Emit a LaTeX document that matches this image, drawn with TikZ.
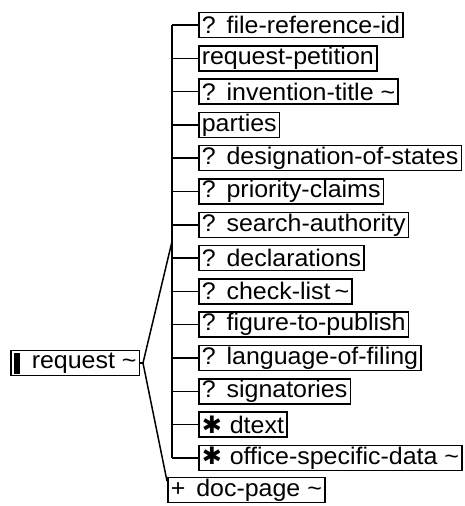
\documentclass[tikz,border=0pt]{standalone}
\usepackage{fontspec}
\setmainfont{Liberation Sans}[FakeStretch=1.04]
\newfontfamily\symfont{DejaVu Sans}
\usetikzlibrary{positioning}

\tikzset{
  elem/.style={draw, line width=1.5pt, anchor=west, inner xsep=3pt, inner ysep=0pt,
    minimum height=25pt, font=\fontsize{24}{25}\selectfont},
  link/.style={line width=1.5pt}
}
\newcommand{\optmark}{?\hspace{11pt}}
\newcommand{\manymark}{{\symfont ✱}\hspace{8pt}}
\newcommand{\plusmark}{+\hspace{11pt}}

\begin{document}
\begin{tikzpicture}[x=1pt,y=-1pt]
    \useasboundingbox (0,0) rectangle (464,506);
    % root element
    \node[elem] (request) at (10,363) {\rule[-5pt]{6pt}{21pt}\hspace{12pt}request \textasciitilde};

    % children of the sequence
    \node[elem] (fileref) at (198,25) {\optmark file-reference-id};
    \node[elem] (petition) at (198,58.3) {request-petition};
    \node[elem] (title) at (198,91.6) {\optmark invention-title \textasciitilde};
    \node[elem] (parties) at (198,125) {parties};
    \node[elem] (designation) at (198,158.2) {\optmark designation-of-states};
    \node[elem] (priority) at (198,191.5) {\optmark priority-claims};
    \node[elem] (search) at (198,224.8) {\optmark search-authority};
    \node[elem] (declarations) at (198,258.1) {\optmark declarations};
    \node[elem] (checklist) at (198,291.4) {\optmark check-list\,\textasciitilde};
    \node[elem] (figure) at (198,324.7) {\optmark figure-to-publish};
    \node[elem] (language) at (198,358) {\optmark language-of-filing};
    \node[elem] (signatories) at (198,391.3) {\optmark signatories};
    \node[elem] (dtext) at (198,424.6) {\manymark dtext};
    \node[elem] (office) at (198,458) {\manymark office-specific-data \textasciitilde};
    \node[elem] (docpage) at (167,490) {\plusmark doc-page \textasciitilde};

    % sequence bar and fork
    \coordinate (bar) at (172,0);
    \coordinate (barmid) at (172,241.5);
    \coordinate (fork) at (143,363);
    \coordinate (docin) at (167,481);
    \draw[link] (fileref.west -| bar) -- (office.west -| bar);
    \draw[link] (request.east) -- (fork);
    \draw[link] (fork) -- (barmid);
    \draw[link] (fork) -- (docin);

    % ticks
    \draw[link] (fileref.west) -- (fileref.west -| bar);
    \draw[link] (petition.west) -- (petition.west -| bar);
    \draw[link] (title.west) -- (title.west -| bar);
    \draw[link] (parties.west) -- (parties.west -| bar);
    \draw[link] (designation.west) -- (designation.west -| bar);
    \draw[link] (priority.west) -- (priority.west -| bar);
    \draw[link] (search.west) -- (search.west -| bar);
    \draw[link] (declarations.west) -- (declarations.west -| bar);
    \draw[link] (checklist.west) -- (checklist.west -| bar);
    \draw[link] (figure.west) -- (figure.west -| bar);
    \draw[link] (language.west) -- (language.west -| bar);
    \draw[link] (signatories.west) -- (signatories.west -| bar);
    \draw[link] (dtext.west) -- (dtext.west -| bar);
    \draw[link] (office.west) -- (office.west -| bar);
\end{tikzpicture}
\end{document}
